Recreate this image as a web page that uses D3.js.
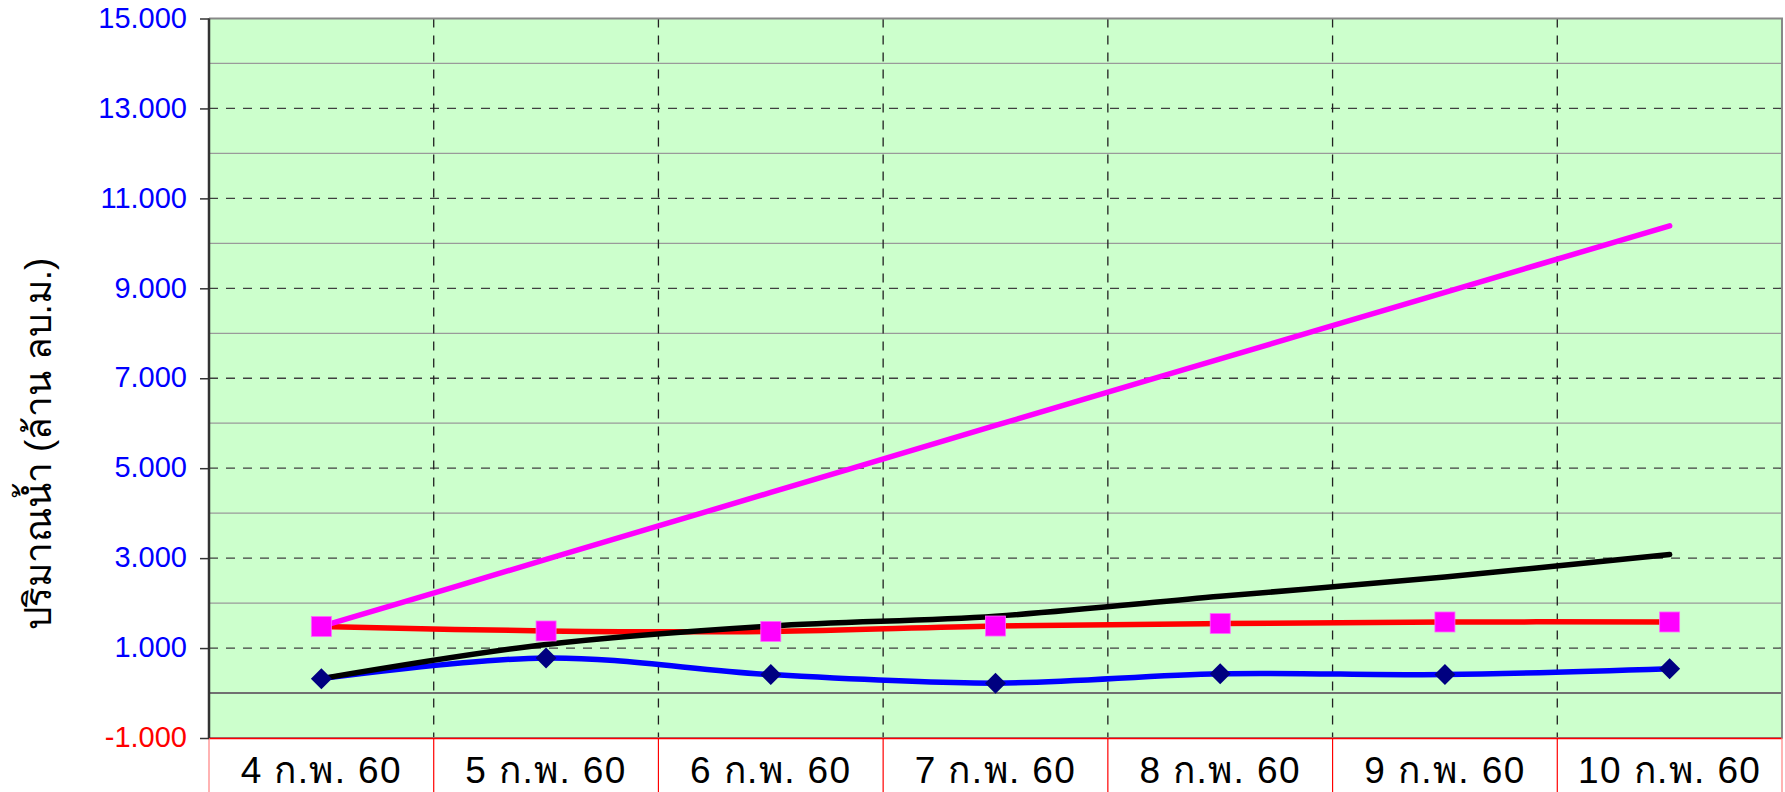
<!DOCTYPE html>
<html>
<head>
<meta charset="utf-8">
<script src="https://cdn.jsdelivr.net/npm/d3@7/dist/d3.min.js"></script>
<style>
  body { margin: 0; background: #fff; }
  svg { display: block; font-family: "Liberation Sans", Arial, sans-serif; }
</style>
</head>
<body>
<div class="chart"></div>
<script>
//Chart data
var categories = ["4 ก.พ. 60", "5 ก.พ. 60", "6 ก.พ. 60", "7 ก.พ. 60", "8 ก.พ. 60", "9 ก.พ. 60", "10 ก.พ. 60"];
var pinkValues = [1.48, 2.97, 4.46, 5.95, 7.43, 8.91, 10.39];
var blackValues = [0.32, 1.08, 1.49, 1.71, 2.15, 2.58, 3.08];
var redValues = [1.48, 1.38, 1.37, 1.49, 1.545, 1.58, 1.58];
var blueValues = [0.32, 0.78, 0.41, 0.22, 0.43, 0.41, 0.54];
var majorTicks = [-1, 1, 3, 5, 7, 9, 11, 13, 15];
var minorTicks = [0, 2, 4, 6, 8, 10, 12, 14];

//Setup SVG size vars
var width = 1785,
  height = 792,
  plot = { left: 209, right: 1782, top: 18.5, bottom: 738 };

var svg = d3
  .select(".chart")
  .append("svg")
  .attr("width", width)
  .attr("height", height);

var x = d3.scaleBand()
  .domain(categories)
  .range([plot.left, plot.right]);

var y = d3.scaleLinear()
  .domain([-1, 15])
  .range([plot.bottom, plot.top]);

//Plot background
svg.append("rect")
  .attr("x", plot.left)
  .attr("y", plot.top)
  .attr("width", plot.right - plot.left)
  .attr("height", plot.bottom - plot.top)
  .style("fill", "#ccffcc");

//Solid minor gridlines
svg.selectAll(".minor")
  .data(minorTicks)
  .enter()
  .append("line")
  .attr("class", "minor")
  .attr("x1", plot.left)
  .attr("x2", plot.right)
  .attr("y1", function(d) { return y(d); })
  .attr("y2", function(d) { return y(d); })
  .style("stroke", function(d) { return d === 0 ? "#707070" : "#9a9a9a"; })
  .style("stroke-width", function(d) { return d === 0 ? 2 : 1.3; });

//Dashed major gridlines
svg.selectAll(".major")
  .data(majorTicks.filter(function(d) { return d > -1 && d < 15; }))
  .enter()
  .append("line")
  .attr("class", "major")
  .attr("x1", plot.left)
  .attr("x2", plot.right)
  .attr("y1", function(d) { return y(d); })
  .attr("y2", function(d) { return y(d); })
  .style("stroke", "#404040")
  .style("stroke-width", 1.3)
  .style("stroke-dasharray", "9,8");

//Dashed vertical lines between categories
svg.selectAll(".vgrid")
  .data(categories.slice(1))
  .enter()
  .append("line")
  .attr("class", "vgrid")
  .attr("x1", function(d) { return x(d); })
  .attr("x2", function(d) { return x(d); })
  .attr("y1", plot.top)
  .attr("y2", plot.bottom)
  .style("stroke", "#202020")
  .style("stroke-width", 1.3)
  .style("stroke-dasharray", "9,8");

//Plot border
svg.append("path")
  .attr("d", "M" + plot.left + "," + plot.top + "H" + plot.right + "V" + plot.bottom + "H" + plot.left)
  .style("fill", "none")
  .style("stroke", "#888")
  .style("stroke-width", 2);

//Category table below the plot
svg.append("line")
  .attr("x1", plot.left)
  .attr("x2", plot.right)
  .attr("y1", plot.bottom + 0.5)
  .attr("y2", plot.bottom + 0.5)
  .style("stroke", "#ff0000")
  .style("stroke-width", 1.5);

svg.selectAll(".cell")
  .data(categories.concat(["end"]))
  .enter()
  .append("line")
  .attr("class", "cell")
  .attr("x1", function(d, i) { return i < categories.length ? x(d) : plot.right; })
  .attr("x2", function(d, i) { return i < categories.length ? x(d) : plot.right; })
  .attr("y1", plot.bottom)
  .attr("y2", height)
  .style("stroke", function(d, i) { return (i === 0 || i === categories.length) ? "#ff8080" : "#ff0000"; })
  .style("stroke-width", 1.2);

svg.selectAll(".xlabel")
  .data(categories)
  .enter()
  .append("text")
  .attr("class", "xlabel")
  .attr("x", function(d) { return x(d) + x.bandwidth() / 2; })
  .attr("y", 783)
  .style("text-anchor", "middle")
  .style("font-size", "37px")
  .style("letter-spacing", "1.4px")
  .style("fill", "#000")
  .text(function(d) { return d; });

//Y axis
var yAxis = svg.append("g")
  .attr("class", "y axis")
  .attr("transform", "translate(" + plot.left + ",0)")
  .call(d3.axisLeft(y)
    .tickValues(majorTicks)
    .tickSize(9)
    .tickPadding(13)
    .tickFormat(function(d) { return d3.format(".3f")(d).replace("\u2212", "-"); }));

yAxis.select(".domain")
  .attr("d", "M0," + plot.top + "V" + plot.bottom)
  .style("stroke", "#333")
  .style("stroke-width", 2.5);

yAxis.selectAll(".tick line")
  .style("stroke", "#333")
  .style("stroke-width", 1.5);

yAxis.selectAll(".tick text")
  .attr("dy", "0.3em")
  .style("font-size", "29px")
  .style("font-family", "'Liberation Sans', Arial, sans-serif")
  .style("fill", function(d) { return d < 0 ? "#ff0000" : "#0000ff"; });

svg.append("text")
  .attr("class", "label")
  .attr("transform", "translate(51,444) rotate(-90)")
  .style("text-anchor", "middle")
  .style("font-size", "37px")
  .text("ปริมาณน้ำ (ล้าน ลบ.ม.)");

//Series lines
var series = [
  { values: blueValues, color: "#0000ff" },
  { values: redValues, color: "#ff0000" },
  { values: blackValues, color: "#000000" },
  { values: pinkValues, color: "#ff00ff" }
];

var line = d3.line()
  .x(function(d, i) { return x(categories[i]) + x.bandwidth() / 2; })
  .y(function(d) { return y(d); })
  .curve(d3.curveCardinal.tension(0));

svg.selectAll(".series")
  .data(series)
  .enter()
  .append("path")
  .attr("class", "series")
  .attr("d", function(d) { return line(d.values); })
  .style("fill", "none")
  .style("stroke", function(d) { return d.color; })
  .style("stroke-width", 5.5)
  .style("stroke-linecap", "round");

//Square markers on the red series
svg.selectAll(".square")
  .data(redValues)
  .enter()
  .append("rect")
  .attr("class", "square")
  .attr("x", function(d, i) { return x(categories[i]) + x.bandwidth() / 2 - 10; })
  .attr("y", function(d) { return y(d) - 10; })
  .attr("width", 20)
  .attr("height", 20)
  .style("fill", "#ff00ff")
  .style("stroke", "#ff66ff")
  .style("stroke-width", 0.8);

//Diamond markers on the blue series
svg.selectAll(".diamond")
  .data(blueValues)
  .enter()
  .append("path")
  .attr("class", "diamond")
  .attr("transform", function(d, i) {
    return "translate(" + (x(categories[i]) + x.bandwidth() / 2) + "," + y(d) + ")";
  })
  .attr("d", "M0,-10.5L10.5,0L0,10.5L-10.5,0Z")
  .style("fill", "#000080");
</script>
</body>
</html>
